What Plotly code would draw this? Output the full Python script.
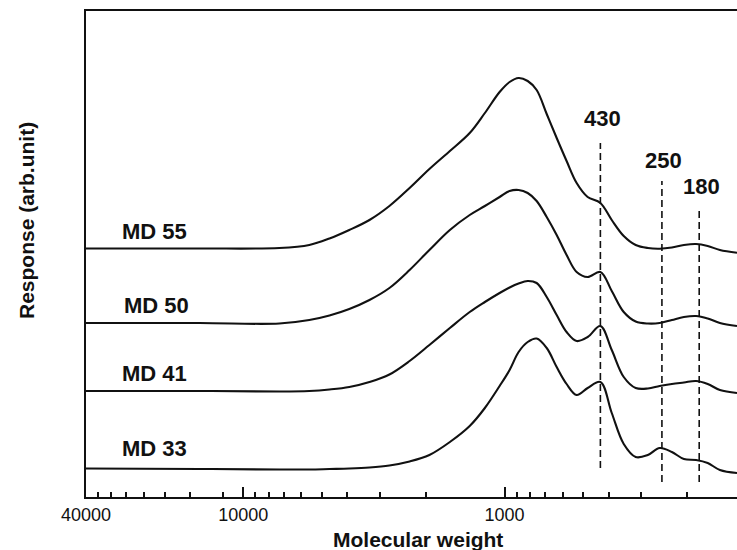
import math
import plotly.graph_objects as go

# Molecular weight grid (x, log scale, reversed)
mw = [40000, 14700, 7280, 5590, 4680, 3930, 3290, 2760, 2310, 1940, 1620, 1360, 1190,
      1045, 957, 884, 816, 754, 690, 632, 579, 530, 481, 430, 389, 350, 315, 283,
      255, 229, 206, 185, 167, 150, 129]

# Responses (arb. units, curves offset vertically)
md55 = [248.5, 248.5, 249, 252, 258.5, 267, 277, 291, 309, 328, 346, 364, 384, 405,
        415, 419, 416, 407, 383, 359, 336, 314, 300, 294, 277, 261, 252, 249, 248.3,
        249.5, 252, 253, 251, 247, 244.3]
md50 = [174, 174, 173.5, 177, 181.5, 188, 197, 209, 227, 247, 267, 282, 291, 300, 306,
        307, 304, 296, 280, 262, 242, 225, 220, 225, 206, 185, 175.5, 173.5, 174, 177,
        180, 181, 178.5, 174, 171]
md41 = [106, 106, 105.5, 106, 107.5, 110, 115, 122.5, 136, 152, 169, 185, 195, 204, 209.5,
        213.5, 216, 214, 200, 182, 165, 156, 160, 171, 147, 120, 109, 108.5, 111, 113,
        114.5, 116, 113, 107, 104]
md33 = [28.5, 28, 27.5, 27.5, 28, 28.5, 29.5, 31.5, 35.5, 42, 55, 71, 89, 111, 127, 145,
        155, 158.5, 149, 130, 113, 102, 109, 115, 84, 53, 40, 42, 49, 45, 38, 37, 34, 27, 24]

series = [("MD 55", md55), ("MD 50", md50), ("MD 41", md41), ("MD 33", md33)]
label_x = [21800, 21500, 21800, 21800]
label_y = [266, 192, 124, 49]

# Marker lines for characteristic molecular weights
peak_mw = [430, 250, 180]
peak_top = [354, 316, 290]
peak_bottom = [29, 15, 15]
peak_label_x = [421, 246, 177]
peak_label_y = [379, 337, 311]

major_ticks = [40000, 10000, 1000]
major_text = ["40000", "10000", "1000"]
minor_ticks = [36000, 32000, 28000, 24000, 20000, 16000, 12000,
               9000, 8000, 7000, 6000, 5000, 4000, 3000, 2000,
               900, 800, 700, 600, 500, 400, 300, 200]

FONT = "Liberation Sans, Arial, Helvetica, sans-serif"
INK = "#111111"

W, H = 737, 550
ML, MR, MT, MB = 86, 0, 11, 53
pw, ph = W - ML - MR, H - MT - MB

fig = go.Figure()
for name, ys in series:
    fig.add_trace(go.Scatter(x=mw, y=ys, mode="lines", name=name,
                             line=dict(color=INK, width=2.1, shape="spline", smoothing=1.0),
                             showlegend=False, hoverinfo="skip"))

for m, top, bot in zip(peak_mw, peak_top, peak_bottom):
    fig.add_trace(go.Scatter(x=[m, m], y=[bot, top], mode="lines",
                             line=dict(color=INK, width=1.6, dash="7px,4px"),
                             showlegend=False, hoverinfo="skip"))

annotations = []
for (name, _), lx, ly in zip(series, label_x, label_y):
    annotations.append(dict(x=math.log10(lx), y=ly, xref="x", yref="y",
                            text="<b>%s</b>" % name, xanchor="center", yanchor="middle",
                            showarrow=False, font=dict(size=22, family=FONT, color=INK)))
for m, lx, ly in zip(peak_mw, peak_label_x, peak_label_y):
    annotations.append(dict(x=math.log10(lx), y=ly, xref="x", yref="y",
                            text="<b>%d</b>" % m, xanchor="center", yanchor="middle",
                            showarrow=False, font=dict(size=22, family=FONT, color=INK)))
# axis titles placed by pixel position, converted to paper coordinates
annotations.append(dict(x=(418 - ML) / pw, y=(H - MB - 539) / ph, xref="paper", yref="paper",
                        text="<b>Molecular weight</b>", xanchor="center", yanchor="middle",
                        showarrow=False, font=dict(size=21, family=FONT, color=INK)))
annotations.append(dict(x=(26 - ML) / pw, y=(H - MB - 221) / ph, xref="paper", yref="paper",
                        text="<b>Response (arb.unit)</b>", textangle=-90,
                        xanchor="center", yanchor="middle",
                        showarrow=False, font=dict(size=21, family=FONT, color=INK)))

fig.update_layout(
    width=W, height=H,
    margin=dict(l=ML, r=MR, t=MT, b=MB, pad=0),
    plot_bgcolor="white", paper_bgcolor="white",
    font=dict(family=FONT, color=INK, size=18),
    annotations=annotations,
    xaxis=dict(type="log", range=[math.log10(40000), math.log10(129)],
               showline=True, linecolor=INK, linewidth=2, mirror=True,
               showgrid=False, zeroline=False,
               tickmode="array", tickvals=major_ticks, ticktext=major_text,
               ticks="inside", ticklen=10, tickwidth=1.5, tickcolor=INK,
               tickfont=dict(size=18, family=FONT, color=INK),
               minor=dict(tickmode="array", tickvals=minor_ticks, ticks="inside",
                          ticklen=5, tickwidth=1.5, tickcolor=INK, showgrid=False)),
    yaxis=dict(range=[0, 486], showline=True, linecolor=INK, linewidth=2,
               showgrid=False, zeroline=False, showticklabels=False, ticks=""),
)

fig.write_html("out.html", config={"displayModeBar": False},
               post_script="document.body.style.margin='0';document.body.style.overflow='hidden';")
